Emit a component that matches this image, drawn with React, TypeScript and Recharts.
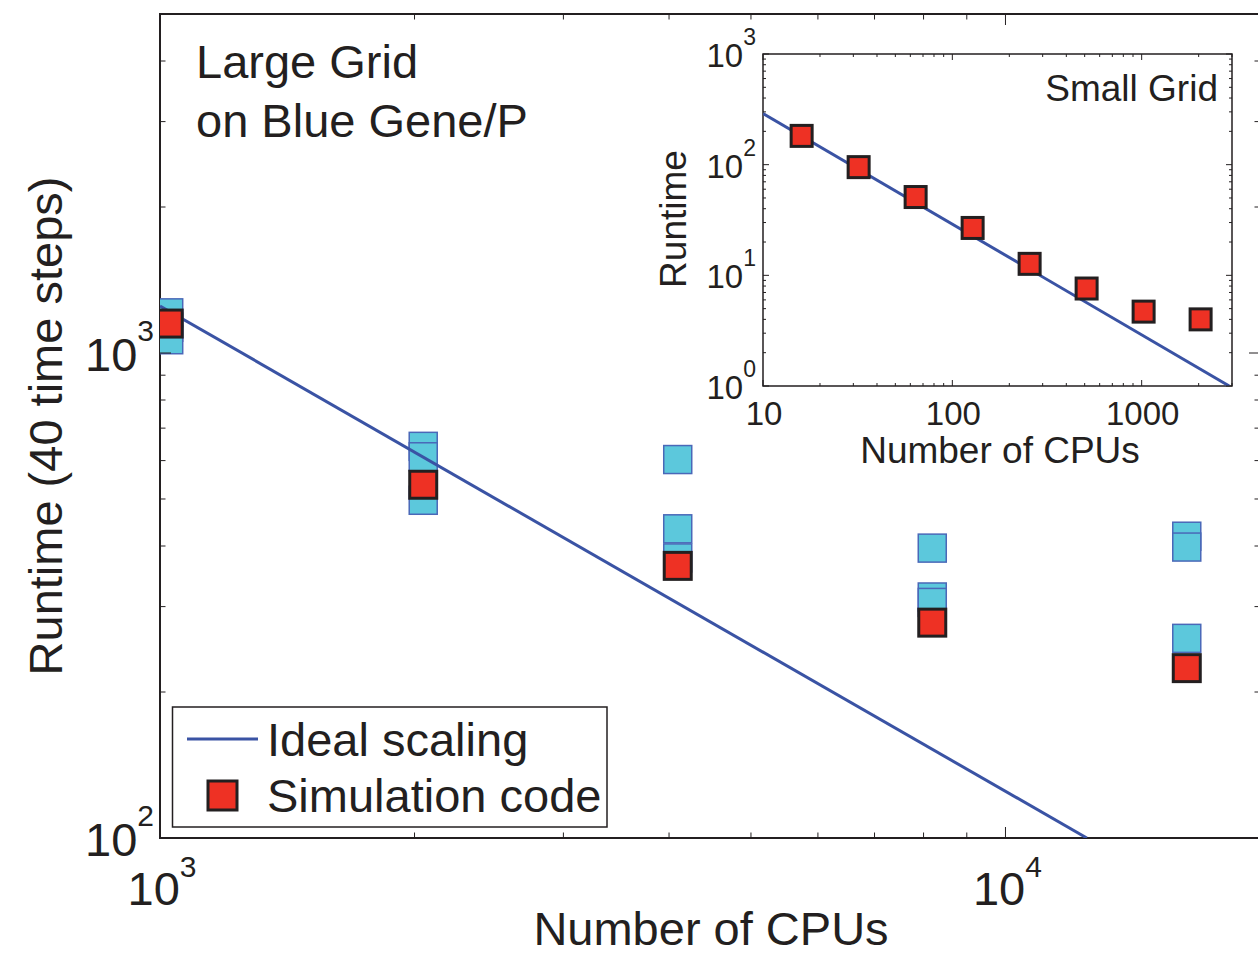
import React from "react";
import { ScatterChart, Scatter, XAxis, YAxis, ReferenceArea } from "recharts";

// main plot: large grid on Blue Gene/P
const largeCpus = [1024, 2048, 4096, 8192, 16384];
const largeRuntime = [1150, 535, 364, 278, 224];
// individual runs (cyan squares), three per CPU count
const largeRuns = [
  [1210, 1130, 1065],
  [642, 611, 497],
  [603, 434, 378],
  [396, 314, 306],
  [419, 398, 258],
];
const idealLargeCpus = [1000, 12480];
const idealLargeRuntime = [1250, 100];

const mainXTicks = [1000, 2000, 3000, 4000, 5000, 6000, 7000, 8000, 9000, 10000, 20000];
const mainYTicks = [100, 200, 300, 400, 500, 600, 700, 800, 900, 1000, 2000, 3000, 4000, 5000];
const mainXLabels = [1000, 10000];
const mainYLabels = [100, 1000];

// inset: small grid
const smallCpus = [16, 32, 64, 128, 256, 512, 1024, 2048];
const smallRuntime = [182, 95, 51, 26.8, 12.7, 7.6, 4.7, 4.0];
const idealSmallCpus = [10, 2900];
const idealSmallRuntime = [290, 1];

const insetXTicks = [10, 20, 30, 40, 50, 60, 70, 80, 90, 100, 200, 300, 400, 500, 600, 700, 800, 900, 1000, 2000, 3000];
const insetYTicks = [1, 2, 3, 4, 5, 6, 7, 8, 9, 10, 20, 30, 40, 50, 60, 70, 80, 90, 100, 200, 300, 400, 500, 600, 700, 800, 900, 1000];
const insetXLabels = [10, 100, 1000];
const insetYLabels = [1, 10, 100, 1000];

const INK = "#231f20";
const BLUE = "#3a53a4";
const RED = "#ee3124";
const CYAN = "#5cc8dc";
const FONT = "'Liberation Sans', Arial, Helvetica, sans-serif";

// plot frame positions (px)
const M_TOP = 14, M_BOTTOM = 838, M_LEFT = 160, M_RIGHT = 1260;
// inset is drawn in its own svg placed at page x = INSET_X
const INSET_X = 640;
const I_TOP = 54, I_BOTTOM = 386, I_LEFT = 123, I_RIGHT = 592;

const simData = largeCpus.map((c, i) => ({ cpus: c, runtime: largeRuntime[i] }));
const runData = largeCpus.flatMap((c, i) => largeRuns[i].map(r => ({ cpus: c, runtime: r })));
const idealLarge = idealLargeCpus.map((c, i) => ({ cpus: c, runtime: idealLargeRuntime[i] }));
const smallData = smallCpus.map((c, i) => ({ cpus: c, runtime: smallRuntime[i] }));
const idealSmall = idealSmallCpus.map((c, i) => ({ cpus: c, runtime: idealSmallRuntime[i] }));

const exp10 = (v: number) => Math.round(Math.log10(v));

const square = (size: number, fill: string, stroke: string, sw: number) => (props: any) => {
  const { cx, cy } = props;
  if (cx == null || cy == null) return <g />;
  return <rect x={cx - size / 2} y={cy - size / 2} width={size} height={size} fill={fill} stroke={stroke} strokeWidth={sw} />;
};

const noShape = () => <g />;

function MainXTick(props: any) {
  const { x, payload } = props;
  const v = payload.value;
  const major = mainXLabels.includes(v);
  const len = major ? 11 : 5.5;
  return (
    <g>
      <line x1={x} x2={x} y1={M_BOTTOM} y2={M_BOTTOM - len} stroke={INK} strokeWidth={1} />
      <line x1={x} x2={x} y1={M_TOP} y2={M_TOP + len} stroke={INK} strokeWidth={1} />
      {major && (
        <text x={x + 2} y={905} textAnchor="middle" fontSize={47} fill={INK} fontFamily={FONT}>
          10<tspan dy={-28} fontSize={30}>{exp10(v)}</tspan>
        </text>
      )}
    </g>
  );
}

function MainYTick(props: any) {
  const { y, payload } = props;
  const v = payload.value;
  const major = mainYLabels.includes(v);
  const len = major ? 11 : 5.5;
  return (
    <g>
      <line x1={M_LEFT} x2={M_LEFT + len} y1={y} y2={y} stroke={INK} strokeWidth={1} />
      <line x1={M_RIGHT} x2={M_RIGHT - len} y1={y} y2={y} stroke={INK} strokeWidth={1} />
      {major && (
        <text x={154} y={y + 18} textAnchor="end" fontSize={47} fill={INK} fontFamily={FONT}>
          10<tspan dy={-30} fontSize={30}>{exp10(v)}</tspan>
        </text>
      )}
    </g>
  );
}

function InsetXTick(props: any) {
  const { x, payload } = props;
  const v = payload.value;
  const major = insetXLabels.includes(v);
  const len = major ? 6 : 3;
  return (
    <g>
      <line x1={x} x2={x} y1={I_BOTTOM} y2={I_BOTTOM - len} stroke={INK} strokeWidth={1} />
      <line x1={x} x2={x} y1={I_TOP} y2={I_TOP + len} stroke={INK} strokeWidth={1} />
      {major && (
        <text x={x + 1} y={425} textAnchor="middle" fontSize={33} fill={INK} fontFamily={FONT}>
          {v}
        </text>
      )}
    </g>
  );
}

function InsetYTick(props: any) {
  const { y, payload } = props;
  const v = payload.value;
  const major = insetYLabels.includes(v);
  const len = major ? 6 : 3;
  return (
    <g>
      <line x1={I_LEFT} x2={I_LEFT + len} y1={y} y2={y} stroke={INK} strokeWidth={1} />
      <line x1={I_RIGHT} x2={I_RIGHT - len} y1={y} y2={y} stroke={INK} strokeWidth={1} />
      {major && (
        <text x={I_LEFT - 7} y={y + 13} textAnchor="end" fontSize={33} fill={INK} fontFamily={FONT}>
          10<tspan dy={-22} fontSize={23}>{exp10(v)}</tspan>
        </text>
      )}
    </g>
  );
}

export default function App() {
  return (
    <div style={{ position: "absolute", left: 0, top: 0, width: 1258, height: 956, overflow: "hidden", background: "#fff", fontFamily: FONT }}>
      {/* main chart */}
      <div style={{ position: "absolute", left: 0, top: 0 }}>
        <ScatterChart width={1262} height={956} margin={{ top: M_TOP, right: 1262 - M_RIGHT, left: M_LEFT - 60, bottom: 956 - M_BOTTOM - 30 }}>
          <XAxis
            type="number"
            dataKey="cpus"
            scale="log"
            domain={[1000, 20000]}
            allowDataOverflow
            ticks={mainXTicks}
            interval={0}
            tick={<MainXTick />}
            tickLine={false}
            axisLine={false}
            height={30}
          />
          <YAxis
            type="number"
            dataKey="runtime"
            scale="log"
            domain={[100, 5000]}
            allowDataOverflow
            ticks={mainYTicks}
            interval={0}
            tick={<MainYTick />}
            tickLine={false}
            axisLine={false}
            width={60}
          />
          <ReferenceArea x1={1000} x2={20000} y1={100} y2={5000} fill="none" fillOpacity={0} stroke={INK} strokeWidth={2} />
          <Scatter data={runData} fill={CYAN} shape={square(28, CYAN, "#4a68b8", 1.5)} isAnimationActive={false} />
          <Scatter data={idealLarge} line={{ stroke: BLUE, strokeWidth: 3 }} shape={noShape} isAnimationActive={false} />
          <Scatter data={simData} fill={RED} shape={square(27, RED, INK, 3)} isAnimationActive={false} />
        </ScatterChart>
      </div>

      {/* inset chart */}
      <div style={{ position: "absolute", left: INSET_X, top: 0 }}>
        <ScatterChart width={618} height={480} margin={{ top: I_TOP, right: 618 - I_RIGHT, left: I_LEFT - 60, bottom: 480 - I_BOTTOM - 30 }}>
          <XAxis
            type="number"
            dataKey="cpus"
            scale="log"
            domain={[10, 3000]}
            allowDataOverflow
            ticks={insetXTicks}
            interval={0}
            tick={<InsetXTick />}
            tickLine={false}
            axisLine={false}
            height={30}
          />
          <YAxis
            type="number"
            dataKey="runtime"
            scale="log"
            domain={[1, 1000]}
            allowDataOverflow
            ticks={insetYTicks}
            interval={0}
            tick={<InsetYTick />}
            tickLine={false}
            axisLine={false}
            width={60}
          />
          <ReferenceArea x1={10} x2={3000} y1={1} y2={1000} fill="none" fillOpacity={0} stroke={INK} strokeWidth={1.5} />
          <Scatter data={idealSmall} line={{ stroke: BLUE, strokeWidth: 3 }} shape={noShape} isAnimationActive={false} />
          <Scatter data={smallData} fill={RED} shape={square(21, RED, INK, 3)} isAnimationActive={false} />
        </ScatterChart>
      </div>

      {/* labels, annotations and legend */}
      <svg width={1258} height={956} style={{ position: "absolute", left: 0, top: 0, pointerEvents: "none" }}>
        <g fontFamily={FONT} fill={INK}>
          <text transform="translate(62,426) rotate(-90)" textAnchor="middle" fontSize={47}>Runtime (40 time steps)</text>
          <text x={711} y={945} textAnchor="middle" fontSize={47}>Number of CPUs</text>
          <text x={196} y={78} fontSize={47}>Large Grid</text>
          <text x={196} y={137} fontSize={47}>on Blue Gene/P</text>

          <text transform="translate(686,219) rotate(-90)" textAnchor="middle" fontSize={37}>Runtime</text>
          <text x={1000} y={463} textAnchor="middle" fontSize={37}>Number of CPUs</text>
          <text x={1218} y={101} textAnchor="end" fontSize={37}>Small Grid</text>
        </g>
        <rect x={172.5} y={707} width={434.5} height={120} fill="#fff" stroke={INK} strokeWidth={1.5} />
        <line x1={187} x2={258} y1={739} y2={739} stroke={BLUE} strokeWidth={3} />
        <rect x={208} y={781} width={29} height={29} fill={RED} stroke={INK} strokeWidth={3} />
        <g fontFamily={FONT} fill={INK} fontSize={47}>
          <text x={267} y={756}>Ideal scaling</text>
          <text x={267} y={812}>Simulation code</text>
        </g>
      </svg>
    </div>
  );
}
